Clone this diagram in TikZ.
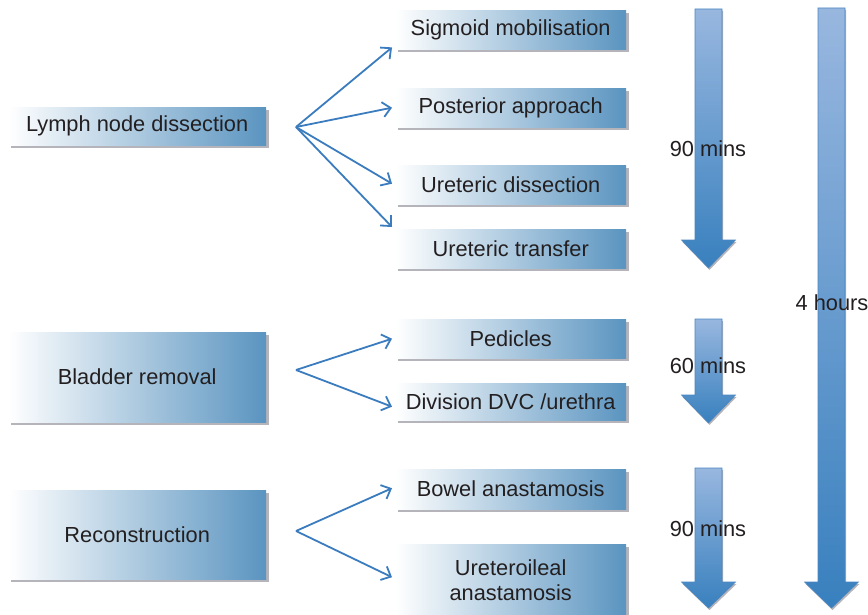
\documentclass[tikz,border=0pt]{standalone}
\usepackage{fontspec}
\setmainfont{Liberation Sans}
\usetikzlibrary{arrows.meta, shadows}

\definecolor{boxblue}{RGB}{90,148,192}
\definecolor{linkblue}{RGB}{58,124,190}
\definecolor{timetop}{RGB}{152,183,223}
\definecolor{timebot}{RGB}{56,128,190}
\definecolor{timeedge}{RGB}{74,134,194}
\definecolor{shade}{RGB}{180,180,186}
\definecolor{ink}{RGB}{35,31,32}

\begin{document}
\begin{tikzpicture}[x=1pt, y=-1pt,
    stagebox/.style={anchor=north west, inner sep=0pt, minimum width=258pt,
      left color=white, right color=boxblue, text=ink, align=center,
      font=\fontsize{21.8}{25}\selectfont,
      drop shadow={shadow xshift=2.5pt, shadow yshift=-3pt, fill=shade, opacity=1}},
    taskbox/.style={stagebox, minimum width=231pt, minimum height=39pt},
    link/.style={draw=linkblue, line width=1.8pt, -{Straight Barb[length=8pt, width=15pt]}},
    timearrow/.style={draw=timeedge, line width=0.6pt, top color=timetop, bottom color=timebot,
      drop shadow={shadow xshift=1pt, shadow yshift=-2pt, fill=shade, opacity=1}},
    timelabel/.style={text=ink, font=\fontsize{21.8}{25}\selectfont}]
  \useasboundingbox (0,0) rectangle (868,615);

  % stages on the left
  \node[stagebox, minimum height=38pt] (lymph) at (8,107) {Lymph node dissection};
  \node[stagebox, minimum height=90pt] (bladder) at (8,332) {Bladder removal};
  \node[stagebox, minimum height=89pt] (recon) at (8,490) {Reconstruction};

  % steps of each stage
  \node[taskbox] (sigmoid) at (395,10) {Sigmoid mobilisation};
  \node[taskbox] (posterior) at (395,88) {Posterior approach};
  \node[taskbox] (udissect) at (395,165) {Ureteric dissection};
  \node[taskbox] (utransfer) at (395,229) {Ureteric transfer};
  \node[taskbox] (pedicles) at (395,319) {Pedicles};
  \node[taskbox, minimum height=37pt] (division) at (395,383) {Division DVC /urethra};
  \node[taskbox, minimum height=40pt] (bowel) at (395,469) {Bowel anastamosis};
  \node[taskbox, minimum height=72pt] (ureteroileal) at (395,544) {Ureteroileal\\anastamosis};

  % fans
  \coordinate (lymphfan) at (296,127);
  \coordinate (bladderfan) at (296,370);
  \coordinate (reconfan) at (296,531);
  \draw[link] (lymphfan) -- ([shift={(-3,-2)}]sigmoid.south west);
  \draw[link] (lymphfan) -- ([xshift=-3pt]posterior.west);
  \draw[link] (lymphfan) -- ([shift={(-3,-1)}]udissect.west);
  \draw[link] (lymphfan) -- ([shift={(-3,-2)}]utransfer.north west);
  \draw[link] (bladderfan) -- ([xshift=-3pt]pedicles.west);
  \draw[link] (bladderfan) -- ([shift={(-3,5)}]division.west);
  \draw[link] (reconfan) -- ([shift={(-3,-1)}]bowel.west);
  \draw[link] (reconfan) -- ([shift={(-3,-3)}]ureteroileal.west);

  % time arrows
  \foreach \cx/\ytop/\yhead/\ytip in {708.5/9/240/268, 708.5/319/395/423, 708.5/468/582/608, 831.5/8/582/608}
    \draw[timearrow] (\cx-13.5,\ytop) -- (\cx+13.5,\ytop) -- (\cx+13.5,\yhead) -- (\cx+27,\yhead)
      -- (\cx,\ytip) -- (\cx-27,\yhead) -- (\cx-13.5,\yhead) -- cycle;

  \node[timelabel] (first) at (708,149) {90 mins};
  \node[timelabel] (second) at (708,366) {60 mins};
  \node[timelabel] (third) at (708,529) {90 mins};
  \node[timelabel] (total) at (832,303) {4 hours};
\end{tikzpicture}
\end{document}
